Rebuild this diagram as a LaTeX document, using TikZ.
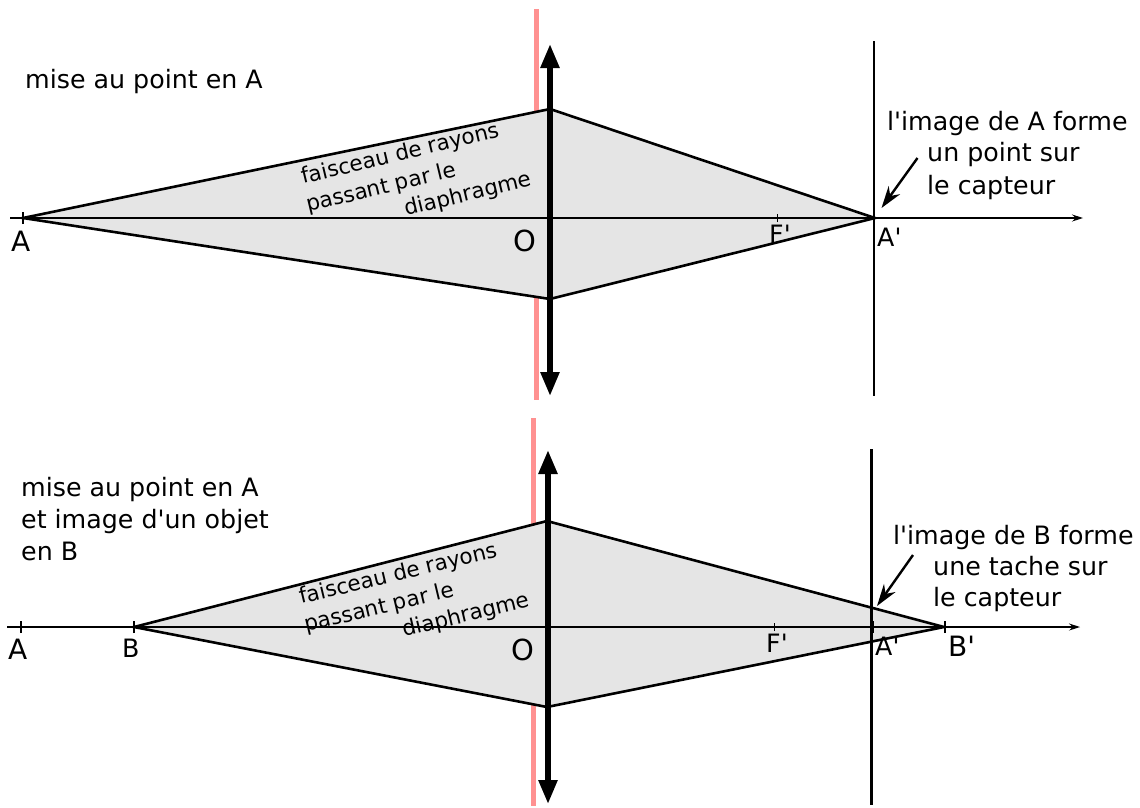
\documentclass[tikz,border=0pt]{standalone}
\usepackage{xcolor}
\usepackage{fontspec}
\setmainfont{DejaVu Sans}[Ligatures=TeXOff]
\usetikzlibrary{arrows.meta}
\definecolor{pinkline}{RGB}{255,145,145}
\definecolor{beamgray}{RGB}{229,229,229}
\tikzset{
  axisline/.style={line width=1.1pt, -{Stealth[length=11pt,width=7pt]}},
  beam/.style={fill=beamgray, draw=black, line width=2.6pt, line join=miter},
  lens/.style={line width=5.5pt, {Stealth[length=24pt,width=18pt,inset=0pt]}-{Stealth[length=24pt,width=18pt,inset=0pt]}, shorten <=-1pt, shorten >=-1pt},
  diaphragm/.style={pinkline, line width=5pt},
  sensor/.style={line width=2.6pt},
  tickmark/.style={line width=2pt},
  pointer/.style={line width=2.4pt, -{Stealth[length=22pt,width=14pt]}},
  lbl/.style={inner sep=0pt, anchor=base west, font=\fontsize{25.3}{30}\selectfont},
  biglbl/.style={lbl, font=\fontsize{28}{32}\selectfont},
  small/.style={inner sep=0pt, anchor=base west, font=\fontsize{21.5}{26}\selectfont, rotate=13.5}
}
\begin{document}
\begin{tikzpicture}[x=1pt, y=-1pt]
\useasboundingbox (0,0) rectangle (1140,807);

% top: focus on A
\coordinate (pink_t1) at (536,9);
\coordinate (pink_t2) at (536,400);
\coordinate (lens_t1) at (550,45);
\coordinate (lens_t2) at (550,395);
\coordinate (axis_t1) at (10,218);
\coordinate (axis_t2) at (1083,218);
\coordinate (sensor_t1) at (874,41);
\coordinate (sensor_t2) at (874,396);
\coordinate (a_t) at (23,218);
\coordinate (up_t) at (550,109);
\coordinate (im_t) at (875,218);
\coordinate (down_t) at (550,299);
\coordinate (f_t) at (777,218);

\draw[diaphragm] (pink_t1) -- (pink_t2);
\draw[beam] (a_t) -- (up_t) -- (im_t) -- (down_t) -- cycle;
\draw[axisline] (axis_t1) -- (axis_t2);
\draw[lens] (lens_t1) -- (lens_t2);
\draw[sensor] (sensor_t1) -- (sensor_t2);
\draw[tickmark] ([yshift=-6pt]a_t) -- ([yshift=6pt]a_t);
\draw[tickmark, line width=1pt] ([yshift=-4pt]f_t) -- ([yshift=4pt]f_t);

\node[lbl] (title_t) at (25,88) {mise au point en A};
\node[biglbl] (la_t) at (11,251) {A};
\node[lbl, font=\fontsize{29}{32}\selectfont] (lo_t) at (513,251) {O};
\node[lbl] (lf_t) at (769,243) {F'};
\node[lbl] (lim_t) at (877,246) {A'};
\node[lbl] (note_t1) at (887,130) {l'image de A forme};
\node[lbl] (note_t2) at (927,161) {un point sur};
\node[lbl] (note_t3) at (927,194) {le capteur};
\coordinate (ptr_t) at (917.5,158);
\coordinate (ptrend_t) at (881.5,208);
\draw[pointer] (ptr_t) -- (ptrend_t);
\node[small] (beam_t1) at (303,184) {faisceau de rayons};
\node[small] (beam_t2) at (308,212) {passant par le};
\node[small] (beam_t3) at (406,216) {diaphragme};

% bottom: focus on A, object in B
\coordinate (pink_b1) at (533,418);
\coordinate (pink_b2) at (533,806);
\coordinate (lens_b1) at (548,451);
\coordinate (lens_b2) at (548,803);
\coordinate (axis_b1) at (7,627);
\coordinate (axis_b2) at (1080,627);
\coordinate (sensor_b1) at (871.5,449);
\coordinate (sensor_b2) at (871.5,805);
\coordinate (a_b) at (21,627);
\coordinate (b_b) at (134,627);
\coordinate (up_b) at (547,521);
\coordinate (im_b) at (944,627);
\coordinate (down_b) at (547,707);
\coordinate (f_b) at (774,627);
\coordinate (cross_b) at (872.5,627);
\coordinate (tickb_b) at (945,627);

\draw[diaphragm] (pink_b1) -- (pink_b2);
\draw[beam] (b_b) -- (up_b) -- (im_b) -- (down_b) -- cycle;
\draw[axisline] (axis_b1) -- (axis_b2);
\draw[lens] (lens_b1) -- (lens_b2);
\draw[sensor] (sensor_b1) -- (sensor_b2);
\draw[tickmark] ([yshift=-6pt]a_b) -- ([yshift=6pt]a_b);
\draw[tickmark] ([yshift=-6pt]b_b) -- ([yshift=6pt]b_b);
\draw[tickmark] ([yshift=-6pt]tickb_b) -- ([yshift=6pt]tickb_b);
\draw[tickmark] ([yshift=-6pt]cross_b) -- ([yshift=6pt]cross_b);
\draw[tickmark, line width=1pt] ([yshift=-4pt]f_b) -- ([yshift=4pt]f_b);

\node[lbl] (title_b1) at (21,496) {mise au point en A};
\node[lbl] (title_b2) at (21,528) {et image d'un objet};
\node[lbl] (title_b3) at (21,560) {en B};
\node[biglbl] (la_b) at (8,659) {A};
\node[lbl] (lb_b) at (122,657) {B};
\node[lbl, font=\fontsize{29}{32}\selectfont] (lo_b) at (511,660) {O};
\node[lbl] (lf_b) at (766,652) {F'};
\node[lbl] (lim_b) at (875,655) {A'};
\node[biglbl] (limb_b) at (948,656) {B'};
\node[lbl] (note_b1) at (893,544) {l'image de B forme};
\node[lbl] (note_b2) at (933,575) {une tache sur};
\node[lbl] (note_b3) at (933,606) {le capteur};
\coordinate (ptr_b) at (913,555);
\coordinate (ptrend_b) at (877,606);
\draw[pointer] (ptr_b) -- (ptrend_b);
\node[small] (beam_b1) at (301,604) {faisceau de rayons};
\node[small] (beam_b2) at (306,632) {passant par le};
\node[small] (beam_b3) at (404,637) {diaphragme};
\end{tikzpicture}
\end{document}
